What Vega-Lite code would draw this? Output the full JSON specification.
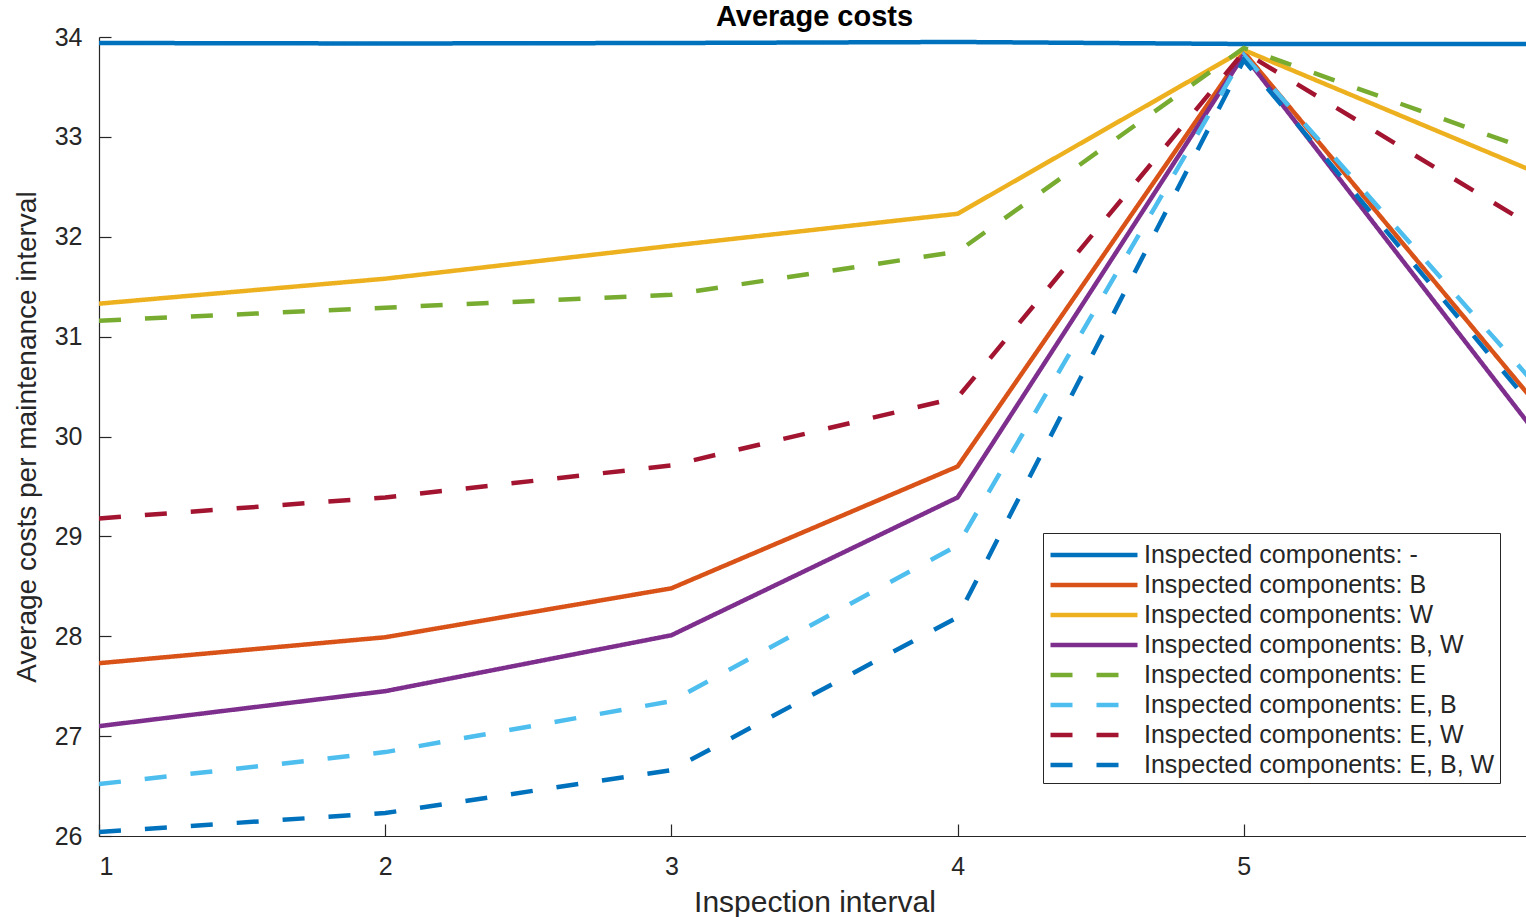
{
  "$schema": "https://vega.github.io/schema/vega-lite/v6.json",
  "autosize": {"type": "none"},
  "padding": {"left": 99, "top": 37, "right": 0, "bottom": 81},
  "width": 1431,
  "height": 799,
  "background": "white",
  "config": {
    "font": "Liberation Sans",
    "view": {"stroke": null},
    "axis": {"grid": false, "domainColor": "#262626", "tickColor": "#262626", "labelColor": "#262626", "titleColor": "#262626", "labelFont": "Liberation Sans", "titleFont": "Liberation Sans", "titleFontWeight": "normal"}
  },
  "title": {"text": "Average costs", "fontSize": 29, "fontWeight": "bold", "font": "Liberation Sans", "color": "#000000", "anchor": "middle", "offset": -7},
  "data": {"values": [
    {"x": 1, "y": 33.94, "series": "Inspected components: -"},
    {"x": 2, "y": 33.935, "series": "Inspected components: -"},
    {"x": 3, "y": 33.94, "series": "Inspected components: -"},
    {"x": 4, "y": 33.95, "series": "Inspected components: -"},
    {"x": 5, "y": 33.93, "series": "Inspected components: -"},
    {"x": 6, "y": 33.93, "series": "Inspected components: -"},
    {"x": 1, "y": 27.73, "series": "Inspected components: B"},
    {"x": 2, "y": 27.99, "series": "Inspected components: B"},
    {"x": 3, "y": 28.48, "series": "Inspected components: B"},
    {"x": 4, "y": 29.70, "series": "Inspected components: B"},
    {"x": 5, "y": 33.85, "series": "Inspected components: B"},
    {"x": 6, "y": 30.40, "series": "Inspected components: B"},
    {"x": 1, "y": 31.33, "series": "Inspected components: W"},
    {"x": 2, "y": 31.58, "series": "Inspected components: W"},
    {"x": 3, "y": 31.91, "series": "Inspected components: W"},
    {"x": 4, "y": 32.23, "series": "Inspected components: W"},
    {"x": 5, "y": 33.87, "series": "Inspected components: W"},
    {"x": 6, "y": 32.67, "series": "Inspected components: W"},
    {"x": 1, "y": 27.10, "series": "Inspected components: B, W"},
    {"x": 2, "y": 27.45, "series": "Inspected components: B, W"},
    {"x": 3, "y": 28.01, "series": "Inspected components: B, W"},
    {"x": 4, "y": 29.39, "series": "Inspected components: B, W"},
    {"x": 5, "y": 33.82, "series": "Inspected components: B, W"},
    {"x": 6, "y": 30.11, "series": "Inspected components: B, W"},
    {"x": 1, "y": 31.16, "series": "Inspected components: E"},
    {"x": 2, "y": 31.29, "series": "Inspected components: E"},
    {"x": 3, "y": 31.42, "series": "Inspected components: E"},
    {"x": 4, "y": 31.85, "series": "Inspected components: E"},
    {"x": 5, "y": 33.89, "series": "Inspected components: E"},
    {"x": 6, "y": 32.87, "series": "Inspected components: E"},
    {"x": 1, "y": 26.52, "series": "Inspected components: E, B"},
    {"x": 2, "y": 26.84, "series": "Inspected components: E, B"},
    {"x": 3, "y": 27.35, "series": "Inspected components: E, B"},
    {"x": 4, "y": 28.91, "series": "Inspected components: E, B"},
    {"x": 5, "y": 33.82, "series": "Inspected components: E, B"},
    {"x": 6, "y": 30.58, "series": "Inspected components: E, B"},
    {"x": 1, "y": 29.18, "series": "Inspected components: E, W"},
    {"x": 2, "y": 29.39, "series": "Inspected components: E, W"},
    {"x": 3, "y": 29.71, "series": "Inspected components: E, W"},
    {"x": 4, "y": 30.39, "series": "Inspected components: E, W"},
    {"x": 5, "y": 33.85, "series": "Inspected components: E, W"},
    {"x": 6, "y": 32.12, "series": "Inspected components: E, W"},
    {"x": 1, "y": 26.04, "series": "Inspected components: E, B, W"},
    {"x": 2, "y": 26.23, "series": "Inspected components: E, B, W"},
    {"x": 3, "y": 26.66, "series": "Inspected components: E, B, W"},
    {"x": 4, "y": 28.19, "series": "Inspected components: E, B, W"},
    {"x": 5, "y": 33.77, "series": "Inspected components: E, B, W"},
    {"x": 6, "y": 30.33, "series": "Inspected components: E, B, W"}
  ]},
  "mark": {"type": "line", "strokeWidth": 4.5, "clip": true},
  "encoding": {
    "x": {"field": "x", "type": "quantitative",
      "scale": {"domain": [1, 6], "nice": false, "zero": false},
      "axis": {"values": [1, 2, 3, 4, 5], "title": "Inspection interval", "titleFontSize": 30, "titlePadding": 8, "labelFontSize": 25, "tickSize": -12, "labelPadding": 30, "domainWidth": 1.2, "tickWidth": 1.2}},
    "y": {"field": "y", "type": "quantitative",
      "scale": {"domain": [26, 34], "nice": false, "zero": false},
      "axis": {"values": [26, 27, 28, 29, 30, 31, 32, 33, 34], "title": "Average costs per maintenance interval", "titleFontSize": 28, "titlePadding": 13, "labelFontSize": 25, "tickSize": -12, "labelPadding": 29, "domainWidth": 1.2, "tickWidth": 1.2}},
    "color": {"field": "series", "type": "nominal",
      "scale": {
        "domain": ["Inspected components: -", "Inspected components: B", "Inspected components: W", "Inspected components: B, W", "Inspected components: E", "Inspected components: E, B", "Inspected components: E, W", "Inspected components: E, B, W"],
        "range": ["#0072BD", "#D95319", "#EDB120", "#7E2F8E", "#77AC30", "#4DBEEE", "#A2142F", "#0072BD"]},
      "legend": {"title": null, "orient": "none", "legendX": 944, "legendY": 496, "symbolType": "M-1,0H5", "symbolSize": 841, "symbolStrokeWidth": 4.5, "labelFontSize": 25, "labelFont": "Liberation Sans", "labelColor": "#262626", "labelLimit": 500, "rowPadding": 0, "padding": 5, "strokeColor": "#262626", "fillColor": "white", "labelOffset": 62}},
    "strokeDash": {"field": "series", "type": "nominal",
      "scale": {
        "domain": ["Inspected components: -", "Inspected components: B", "Inspected components: W", "Inspected components: B, W", "Inspected components: E", "Inspected components: E, B", "Inspected components: E, W", "Inspected components: E, B, W"],
        "range": [[1, 0], [1, 0], [1, 0], [1, 0], [22, 24], [22, 24], [22, 24], [22, 24]]}}
  }
}
